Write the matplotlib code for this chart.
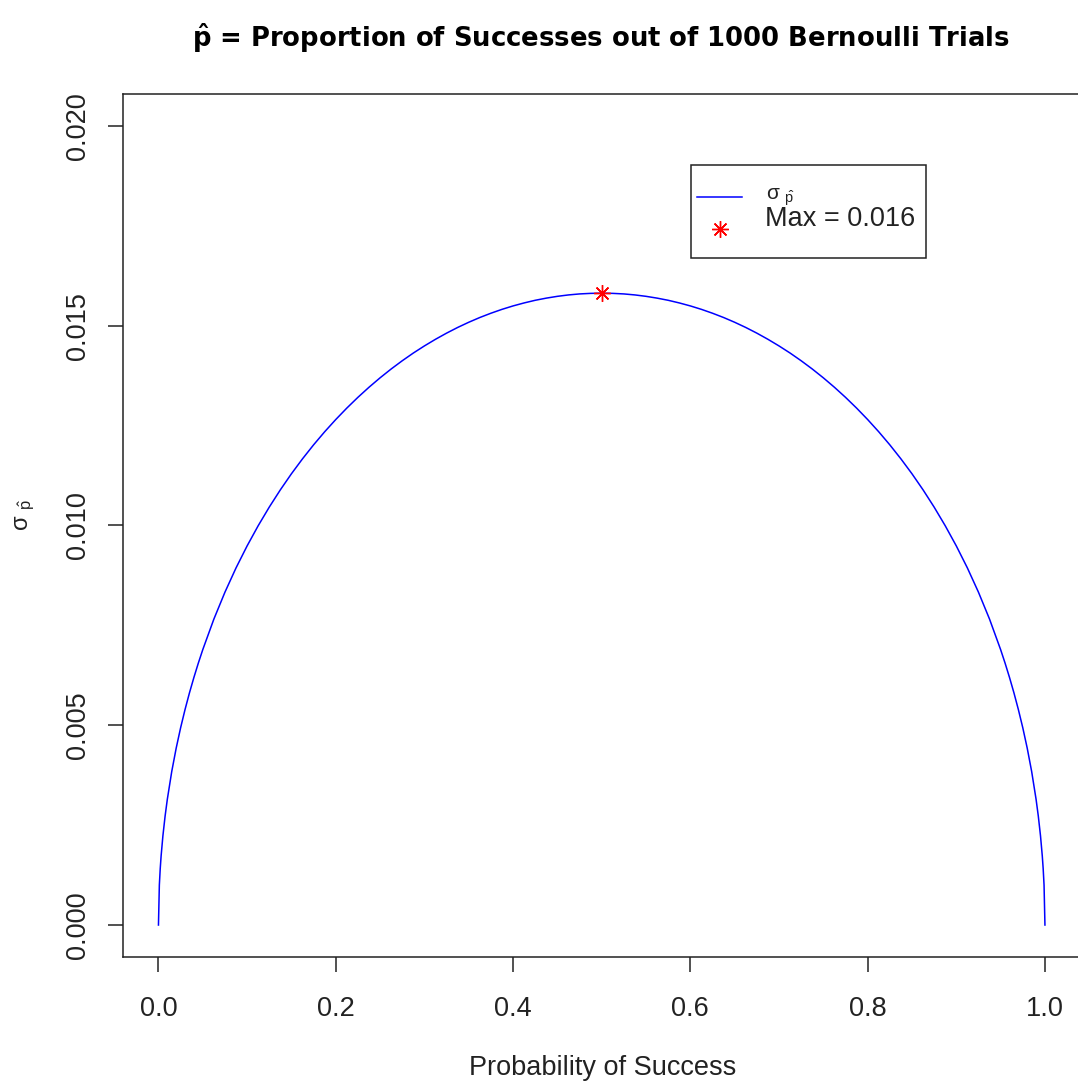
import matplotlib
matplotlib.use("Agg")
import matplotlib.pyplot as plt
from matplotlib.patches import Rectangle
from matplotlib.lines import Line2D

plt.rcParams['font.family'] = ['Liberation Sans', 'DejaVu Sans']
plt.rcParams['mathtext.fontset'] = 'custom'
plt.rcParams['mathtext.rm'] = 'Liberation Sans'
plt.rcParams['mathtext.it'] = 'Liberation Sans'
plt.rcParams['mathtext.bf'] = 'DejaVu Sans:bold'

# data
p_values = [0.0, 0.001, 0.002, 0.003, 0.005, 0.0075, 0.01, 0.015, 0.02, 0.025, 0.03, 0.035,
            0.04, 0.045, 0.05, 0.0625, 0.075, 0.0875, 0.1, 0.1125, 0.125, 0.1375, 0.15,
            0.1625, 0.175, 0.1875, 0.2, 0.2125, 0.225, 0.2375, 0.25, 0.2625, 0.275, 0.2875,
            0.3, 0.3125, 0.325, 0.3375, 0.35, 0.3625, 0.375, 0.3875, 0.4, 0.4125, 0.425,
            0.4375, 0.45, 0.4625, 0.475, 0.4875, 0.5,
            0.5125, 0.525, 0.5375, 0.55, 0.5625, 0.575, 0.5875, 0.6, 0.6125, 0.625, 0.6375,
            0.65, 0.6625, 0.675, 0.6875, 0.7, 0.7125, 0.725, 0.7375, 0.75, 0.7625, 0.775,
            0.7875, 0.8, 0.8125, 0.825, 0.8375, 0.85, 0.8625, 0.875, 0.8875, 0.9, 0.9125,
            0.925, 0.9375, 0.95, 0.955, 0.96, 0.965, 0.97, 0.975, 0.98, 0.985, 0.99, 0.9925,
            0.995, 0.997, 0.998, 0.999, 1.0]
sigma_values = [0.0, 0.000999, 0.001413, 0.001729, 0.00223, 0.002728, 0.003146, 0.003844,
                0.004427, 0.004937, 0.005394, 0.005812, 0.006197, 0.006556, 0.006892,
                0.007655, 0.008329, 0.008936, 0.009487, 0.009992, 0.010458, 0.010890,
                0.011292, 0.011666, 0.012016, 0.012343, 0.012649, 0.012936, 0.013205,
                0.013457, 0.013693, 0.013914, 0.01412, 0.014313, 0.014491, 0.014657,
                0.014811, 0.014953, 0.015083, 0.015202, 0.015309, 0.015406, 0.015492,
                0.015567, 0.015633, 0.015687, 0.015732, 0.015767, 0.015792, 0.015806,
                0.015811,
                0.015806, 0.015792, 0.015767, 0.015732, 0.015687, 0.015633, 0.015567,
                0.015492, 0.015406, 0.015309, 0.015202, 0.015083, 0.014953, 0.014811,
                0.014657, 0.014491, 0.014313, 0.01412, 0.013914, 0.013693, 0.013457,
                0.013205, 0.012936, 0.012649, 0.012343, 0.012016, 0.011666, 0.011292,
                0.010890, 0.010458, 0.009992, 0.009487, 0.008936, 0.008329, 0.007655,
                0.006892, 0.006556, 0.006197, 0.005812, 0.005394, 0.004937, 0.004427,
                0.003844, 0.003146, 0.002728, 0.00223, 0.001729, 0.001413, 0.000999, 0.0]
max_p = 0.5
max_sigma = 0.015811
x_ticks = [0.0, 0.2, 0.4, 0.6, 0.8, 1.0]
x_tick_labels = ["0.0", "0.2", "0.4", "0.6", "0.8", "1.0"]
y_ticks = [0.000, 0.005, 0.010, 0.015, 0.020]
y_tick_labels = ["0.000", "0.005", "0.010", "0.015", "0.020"]
legend_labels = [r'$\sigma\ _{\hat{p}}$', 'Max = 0.016']

W, H = 1078, 1087
fig = plt.figure(figsize=(W / 100, H / 100), dpi=100)


def fx(x):
    return x / W


def fy(y):
    return (H - y) / H


left, right, top, bottom = 123, 1080.4, 93.8, 957
ax = fig.add_axes([fx(left), fy(bottom), (right - left) / W, (bottom - top) / H])

ax.plot(p_values, sigma_values, color='#0000FF', lw=1.1)
ax.plot([max_p], [max_sigma], linestyle='none', marker=(8, 2, 0), markersize=12,
        markeredgewidth=1.0, color='#FF0000')

ax.set_xlim(-0.04, 1.04)
ax.set_ylim(-0.0008, 0.0208)
ax.set_xticks(x_ticks)
ax.set_xticklabels(x_tick_labels)
ax.set_yticks(y_ticks)
ax.set_yticklabels(y_tick_labels, rotation=90, va='center')
ax.tick_params(axis='both', length=11, width=1.1, labelsize=19.5, color='#222222',
               labelcolor='#222222')
ax.tick_params(axis='x', pad=17)
ax.tick_params(axis='y', pad=12)
for s in ax.spines.values():
    s.set_linewidth(1.1)
    s.set_color('#222222')

fig.text(fx(601), fy(47),
         r'$\mathbf{\hat{p}}$ = Proportion of Successes out of 1000 Bernoulli Trials',
         ha='center', va='baseline', fontsize=18.6, fontweight='bold',
         family=['DejaVu Sans'])
fig.text(fx(603), fy(1068), 'Probability of Success', ha='center', va='center',
         fontsize=19.5, color='#222222')
fig.text(fx(25), fy(515), r'$\sigma\ _{\hat{p}}$', ha='center', va='center',
         rotation=90, fontsize=17, color='#222222')

# legend box
fig.add_artist(Rectangle((fx(691), fy(258)), (926 - 691) / W, (258 - 165) / H,
                         transform=fig.transFigure, facecolor='white',
                         edgecolor='#222222', lw=1.1, zorder=5))
fig.add_artist(Line2D([fx(697), fx(742)], [fy(197), fy(197)], transform=fig.transFigure,
                      color='#0000FF', lw=1.1, zorder=6))
fig.add_artist(Line2D([fx(720)], [fy(229)], transform=fig.transFigure, linestyle='none',
                      marker=(8, 2, 0), markersize=12, markeredgewidth=1.0,
                      color='#FF0000', zorder=6))
fig.text(fx(766), fy(197), legend_labels[0], ha='left', va='center', fontsize=15,
         color='#222222', zorder=7)
fig.text(fx(765), fy(219), legend_labels[1], ha='left', va='center', fontsize=19.5,
         color='#222222', zorder=7)

fig.savefig('out.png', dpi=100)
